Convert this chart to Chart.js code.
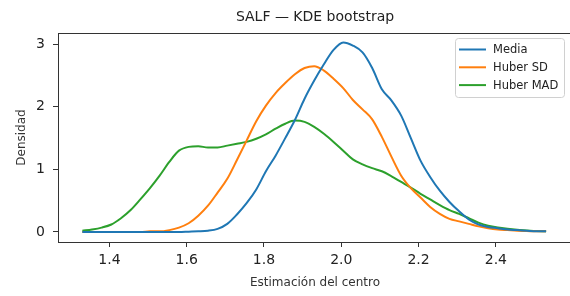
<html lang="es">
<head>
<meta charset="UTF-8">
<script src="https://cdn.jsdelivr.net/npm/chart.js@4.4.0/dist/chart.umd.min.js"></script>
<title>SALF — KDE bootstrap</title>
<style>
  body { margin: 0; overflow: hidden; background: #fff; }
  #wrap { width: 574px; height: 296px; }
</style>
</head>
<body>
<div id="wrap"><canvas id="chart" width="574" height="296"></canvas></div>
<script>
// grid of estimates (x) and the three KDE curves
const xs = [1.33, 1.355, 1.38, 1.405, 1.43, 1.455, 1.48, 1.505, 1.53, 1.555,
            1.58, 1.605, 1.63, 1.655, 1.68, 1.705, 1.73, 1.755, 1.78, 1.805,
            1.83, 1.855, 1.88, 1.905, 1.93, 1.955, 1.98, 2.005, 2.03, 2.055,
            2.08, 2.105, 2.13, 2.155, 2.18, 2.205, 2.23, 2.255, 2.28, 2.305,
            2.33, 2.355, 2.38, 2.405, 2.43, 2.455, 2.48, 2.505, 2.53];

const media = [0, 0, 0, 0, 0, 0, 0, 0, 0, 0,
               0, 0.005, 0.01, 0.02, 0.05, 0.13, 0.28, 0.46, 0.68, 0.97,
               1.22, 1.50, 1.79, 2.13, 2.42, 2.68, 2.91, 3.03, 2.98, 2.87,
               2.62, 2.28, 2.10, 1.86, 1.50, 1.14, 0.88, 0.66, 0.48, 0.33,
               0.20, 0.12, 0.08, 0.06, 0.04, 0.03, 0.02, 0.01, 0.01];

const huberSD = [0, 0, 0, 0, 0, 0, 0, 0.01, 0.01, 0.03,
                 0.07, 0.14, 0.26, 0.42, 0.63, 0.85, 1.15, 1.46, 1.77, 2.02,
                 2.22, 2.38, 2.52, 2.62, 2.65, 2.58, 2.45, 2.30, 2.11, 1.96,
                 1.80, 1.52, 1.20, 0.90, 0.70, 0.55, 0.40, 0.29, 0.21, 0.17,
                 0.13, 0.09, 0.06, 0.04, 0.03, 0.02, 0.015, 0.01, 0.01];

const huberMAD = [0.02, 0.04, 0.07, 0.12, 0.22, 0.35, 0.52, 0.70, 0.90, 1.12,
                  1.30, 1.36, 1.37, 1.35, 1.35, 1.38, 1.41, 1.44, 1.49, 1.56,
                  1.65, 1.73, 1.78, 1.76, 1.68, 1.57, 1.44, 1.30, 1.16, 1.08,
                  1.02, 0.97, 0.89, 0.80, 0.71, 0.61, 0.52, 0.43, 0.35, 0.29,
                  0.22, 0.15, 0.10, 0.07, 0.05, 0.035, 0.025, 0.015, 0.01];

const seriesNames = ['Media', 'Huber SD', 'Huber MAD'];
const seriesColors = ['#1f77b4', '#ff7f0e', '#2ca02c'];
const xTicks = [1.4, 1.6, 1.8, 2.0, 2.2, 2.4];
const yTicks = [0, 1, 2, 3];

const FONT = "'DejaVu Sans', sans-serif";

function pts(ys) {
    return xs.map((x, i) => ({ x: x, y: ys[i] }));
}

// title, frame and legend box, matplotlib style
const decor = {
    id: 'decor',
    afterDraw(chart) {
        const { ctx, chartArea: a } = chart;
        ctx.save();
        ctx.strokeStyle = '#333';
        ctx.lineWidth = 1;
        ctx.strokeRect(a.left + 0.5, a.top + 0.5, a.right - a.left, a.bottom - a.top);

        ctx.fillStyle = '#222';
        ctx.font = '14px ' + FONT;
        ctx.textAlign = 'center';
        ctx.textBaseline = 'middle';
        ctx.fillText('SALF — KDE bootstrap', (a.left + a.right) / 2, 17);

        // legend
        const bx = 455, by = 38, bw = 109, bh = 59;
        ctx.beginPath();
        ctx.roundRect(bx + 0.5, by + 0.5, bw, bh, 3);
        ctx.fillStyle = 'rgba(255,255,255,0.8)';
        ctx.fill();
        ctx.strokeStyle = '#d0d0d0';
        ctx.stroke();
        ctx.font = '11.5px ' + FONT;
        ctx.textAlign = 'left';
        seriesNames.forEach((name, i) => {
            const y = by + 11.5 + i * 17.8;
            ctx.strokeStyle = seriesColors[i];
            ctx.lineWidth = 2;
            ctx.beginPath();
            ctx.moveTo(459, y);
            ctx.lineTo(486, y);
            ctx.stroke();
            ctx.fillStyle = '#222';
            ctx.fillText(name, 493, y + 0.5);
        });
        ctx.restore();
    }
};

const ctx = document.getElementById('chart').getContext('2d');
new Chart(ctx, {
    type: 'line',
    data: {
        datasets: [media, huberSD, huberMAD].map((ys, i) => ({
            label: seriesNames[i],
            data: pts(ys),
            borderColor: seriesColors[i],
            borderWidth: 2,
            pointRadius: 0,
            fill: false,
            cubicInterpolationMode: 'monotone'
        }))
    },
    options: {
        responsive: false,
        animation: false,
        layout: { padding: { top: 33, left: 0, right: 2, bottom: 0 } },
        plugins: {
            legend: { display: false },
            title: { display: false },
            tooltip: { enabled: false }
        },
        scales: {
            x: {
                type: 'linear',
                min: 1.267,
                max: 2.597,
                afterFit: s => { s.height = 54; },
                afterBuildTicks: s => { s.ticks = xTicks.map(v => ({ value: v })); },
                border: { display: false },
                grid: { drawOnChartArea: false, drawTicks: true, tickLength: 5, color: '#333' },
                ticks: {
                    color: '#222',
                    padding: 5,
                    maxRotation: 0,
                    font: { family: FONT, size: 14 },
                    callback: v => Number(v).toFixed(1)
                },
                title: {
                    display: true,
                    text: 'Estimación del centro',
                    color: '#333',
                    font: { family: FONT, size: 12 },
                    padding: { top: 0, bottom: 6 }
                }
            },
            y: {
                min: -0.16,
                max: 3.18,
                afterFit: s => { s.width = 58; },
                afterBuildTicks: s => { s.ticks = yTicks.map(v => ({ value: v })); },
                border: { display: false },
                grid: { drawOnChartArea: false, drawTicks: true, tickLength: 5, color: '#333' },
                ticks: {
                    color: '#222',
                    padding: 8,
                    font: { family: FONT, size: 14 },
                    callback: v => String(v)
                },
                title: {
                    display: true,
                    text: 'Densidad',
                    color: '#333',
                    font: { family: FONT, size: 12 },
                    padding: { top: 15, bottom: 0 }
                }
            }
        }
    },
    plugins: [decor]
});
</script>
</body>
</html>
